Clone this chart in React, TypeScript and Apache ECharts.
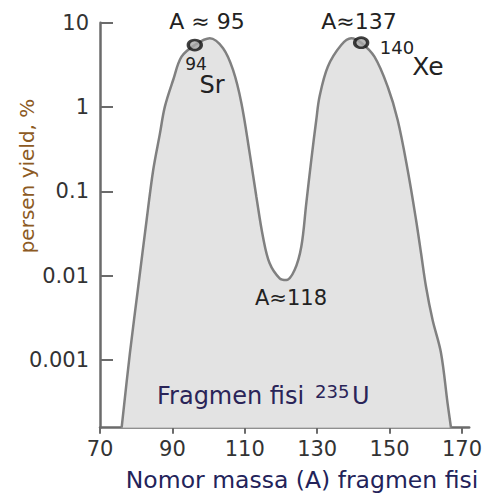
import React, { useEffect, useRef } from "react";
import * as echarts from "echarts";

// Mass number A of fission fragment and yield (%)
const massNumber = [
  75.98, 78.27, 80.56, 82.88, 84.7, 86.54, 87.92, 90.21, 92.53, 96.19, 100.33,
  104.0, 106.75, 109.07, 111.36, 113.2, 115.02, 116.87, 119.63, 121.48, 123.76,
  125.61, 126.99, 128.37, 129.75, 130.66, 132.94, 136.64, 139.4, 142.15, 145.82,
  149.49, 152.24, 155.0, 157.32, 158.7, 160.07, 161.89, 164.21, 166.03, 166.97,
];
const yieldPercent = [
  0.000157, 0.00121, 0.00738, 0.0457, 0.179, 0.48, 1.01, 2.09, 3.95, 5.43, 6.53,
  4.97, 2.75, 1.11, 0.282, 0.0863, 0.0289, 0.014, 0.00929, 0.00887, 0.01164,
  0.022, 0.0721, 0.235, 0.701, 1.33, 3.01, 5.43, 6.53, 5.79, 3.95,
  1.74, 0.701, 0.179, 0.0457, 0.0184, 0.00738, 0.00297, 0.00121, 0.000305, 0.000157,
];
const markerMass = [96.19, 142.15];
const markerYield = [5.43, 5.79];

const xTicks = [70, 90, 110, 130, 150, 170];
const yTicks = [0.001, 0.01, 0.1, 1, 10];
const yTickLabels = ["0.001", "0.01", "0.1", "1", "10"];

const FONT = "DejaVu Sans";

export default function App() {
  const ref = useRef<HTMLDivElement>(null);
  useEffect(() => {
    const chart = echarts.init(ref.current!, null, { renderer: "svg" });
    const lg = (v: number) => Math.log10(v);
    const yTickVals = yTicks.map(lg);
    const axisColor = "#6b6b6b";
    const txt = (
      text: string,
      x: number,
      y: number,
      size: number,
      fill: string,
      align = "center",
      extra: any = {}
    ) => ({
      type: "text",
      x,
      y,
      z: 100,
      ...extra,
      style: {
        text,
        fontFamily: FONT,
        fontSize: size,
        fill,
        align,
        verticalAlign: "middle",
      },
    });
    chart.setOption({
      animation: false,
      grid: { left: 100, top: 22.7, width: 370, height: 405 },
      xAxis: {
        type: "value",
        min: 70,
        max: 172,
        axisLine: { show: true, onZero: false, lineStyle: { color: axisColor, width: 2.5 } },
        axisTick: { show: true, customValues: xTicks, length: 6, lineStyle: { color: axisColor, width: 2 } },
        axisLabel: { customValues: xTicks, fontFamily: FONT, fontSize: 21, color: "#333", margin: 11 },
        splitLine: { show: false },
      },
      yAxis: {
        type: "value",
        min: -3.804,
        max: 1,
        axisLine: { show: true, onZero: false, lineStyle: { color: axisColor, width: 2.5 } },
        axisTick: {
          show: true,
          inside: true,
          length: 13,
          customValues: yTickVals,
          lineStyle: { color: axisColor, width: 2 },
        },
        axisLabel: {
          customValues: yTickVals,
          fontFamily: FONT,
          fontSize: 21,
          color: "#333",
          margin: 11,
          formatter: (v: number) => {
            const i = yTickVals.findIndex((t) => Math.abs(t - v) < 1e-6);
            return i >= 0 ? yTickLabels[i] : "";
          },
        },
        splitLine: { show: false },
      },
      series: [
        {
          type: "line",
          data: massNumber.map((a, i) => [a, lg(yieldPercent[i])]),
          smooth: 0.35,
          showSymbol: false,
          lineStyle: { color: "#808080", width: 2.5 },
          areaStyle: { color: "#e3e3e3", opacity: 1, origin: "start" },
          z: 1,
        },
        {
          type: "scatter",
          data: markerMass.map((a, i) => [a, lg(markerYield[i])]),
          symbol: "circle",
          symbolSize: [13, 10],
          itemStyle: { color: "#a8a8a8", borderColor: "#111", borderWidth: 3 },
          z: 5,
        },
      ],
      graphic: [
        txt("A ≈ 95", 207, 21, 22, "#222"),
        txt("A≈137", 359, 21.5, 22, "#222"),
        txt("94", 196, 64, 17, "#222"),
        txt("Sr", 212, 84.5, 24, "#222"),
        txt("140", 397, 47, 18, "#222"),
        txt("Xe", 428, 66, 25, "#222"),
        txt("A≈118", 291, 297.5, 21, "#222"),
        txt("Fragmen fisi", 157, 396, 24, "#2a2458", "left"),
        txt("235", 315, 391, 18, "#2a2458", "left"),
        txt("U", 352, 396, 24, "#2a2458", "left"),
        txt("Nomor massa (A) fragmen fisi", 302, 480, 23.5, "#23235a"),
        txt("persen yield, %", 27, 176, 20, "#8c5a23", "center", { rotation: Math.PI / 2 }),
      ],
    });
    return () => chart.dispose();
  }, []);
  return (
    <div
      ref={ref}
      style={{ position: "fixed", left: 0, top: 0, width: 485, height: 495, background: "#fff" }}
    />
  );
}
